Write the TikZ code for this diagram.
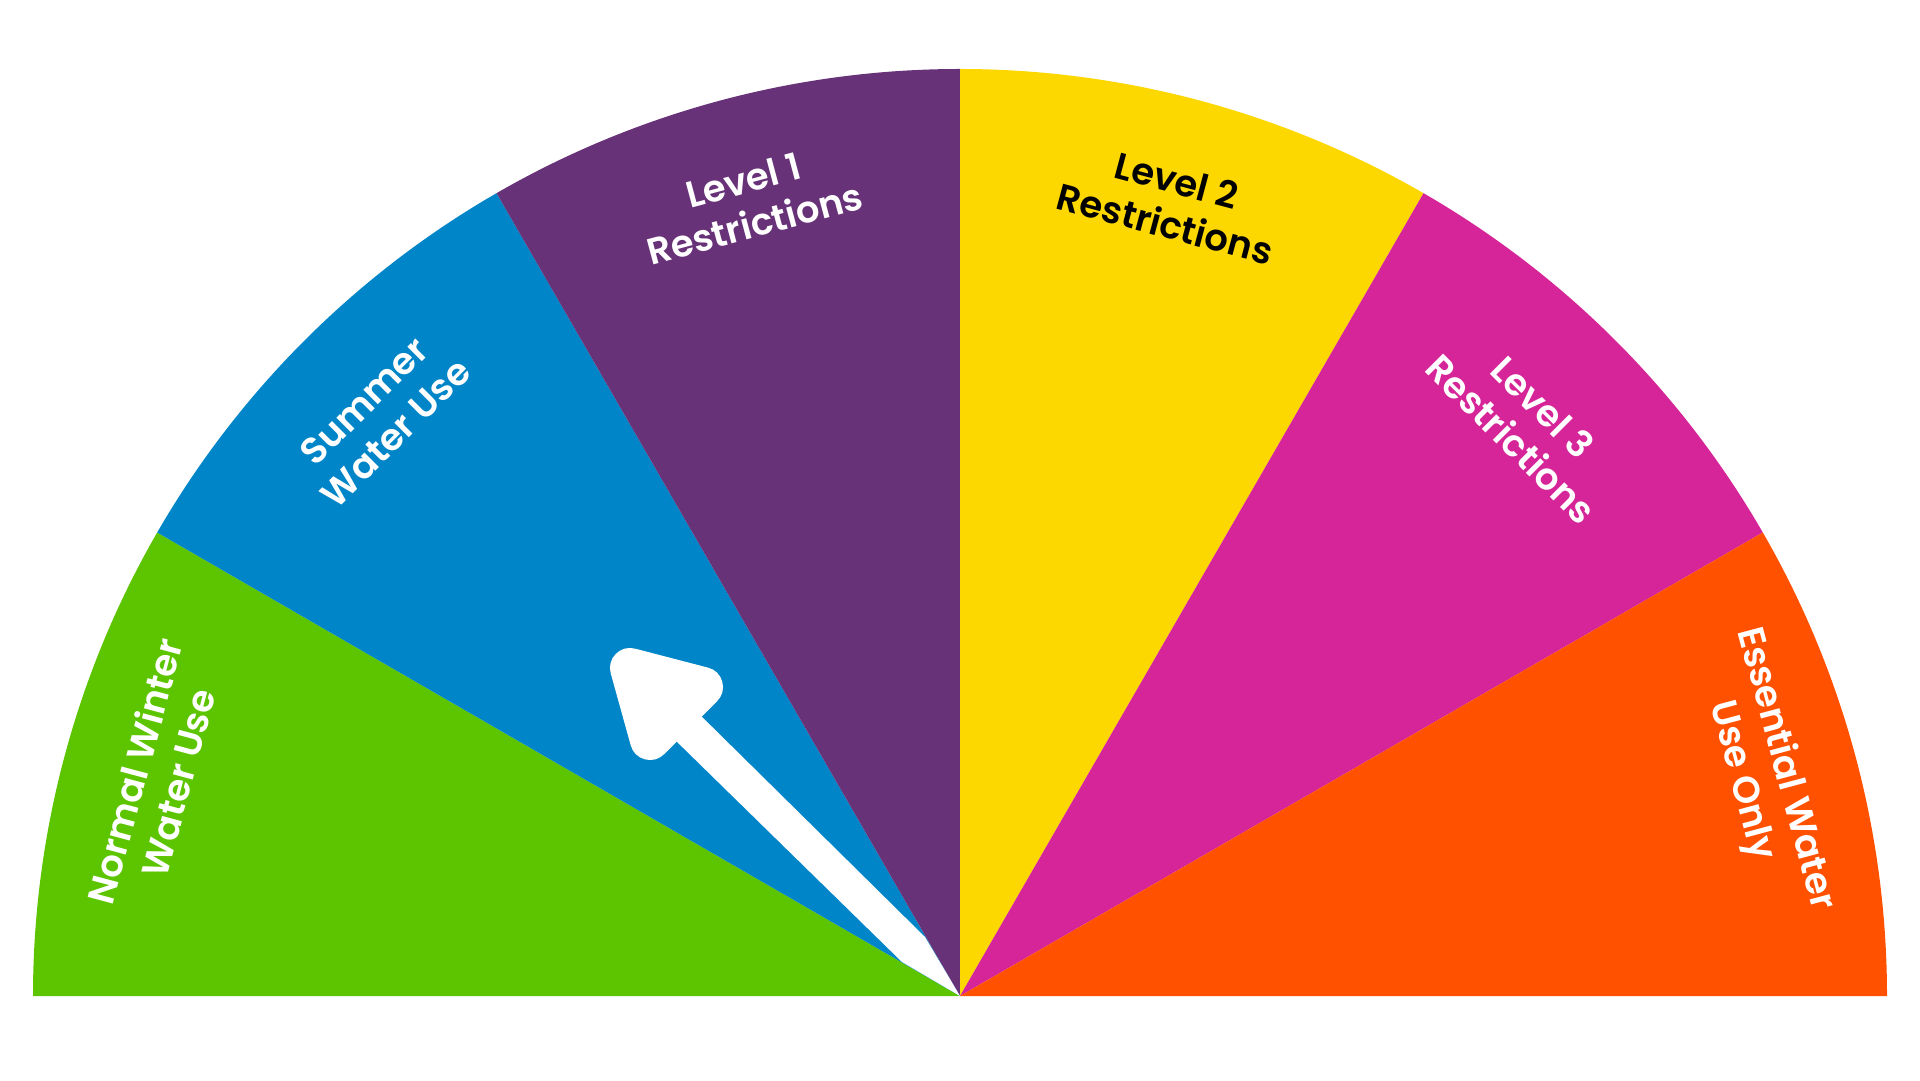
\documentclass[tikz,border=0pt]{standalone}
\usepackage{fontspec}
\setmainfont{Poppins}[BoldFont={Poppins SemiBold}]
\usepackage{tikz}
\usetikzlibrary{calc}
\definecolor{winter}{HTML}{5DC400}
\definecolor{summer}{HTML}{0085C8}
\definecolor{levelone}{HTML}{673278}
\definecolor{leveltwo}{HTML}{FCD700}
\definecolor{levelthree}{HTML}{D62598}
\definecolor{essential}{HTML}{FF5100}
\def\sector[#1](#2)(#3:#4:#5){\fill[#1] (#2) -- ++(#3:#5) arc (#3:#4:#5) -- cycle;}
\tikzset{
  dial label/.style={align=center, font=\bfseries\fontsize{37}{45}\selectfont, text=white, inner sep=0pt},
}

\begin{document}
\begin{tikzpicture}[x=1pt, y=1pt]
		%%%%% START %%%%%
		\useasboundingbox (0, 0) rectangle (1920, 1080);

		\coordinate (hub) at (960, 84);

		\sector[winter](hub)(150:180:927);
		\sector[summer](hub)(120:150:927);
		\sector[levelone](hub)(90:120:927);
		\sector[leveltwo](hub)(60:90:927);
		\sector[levelthree](hub)(30:60:927);
		\sector[essential](hub)(0:30:927);

		\node[dial label, rotate=75] (winterlbl) at (156, 303) {Normal Winter\\Water Use};
		\node[dial label, rotate=45] (summerlbl) at (380, 663) {Summer\\Water Use};
		\node[dial label, rotate=15] (levelonelbl) at (749, 878) {Level 1\\Restrictions};
		\node[dial label, rotate=-15, text=black] (leveltwolbl) at (1171, 878) {Level 2\\Restrictions};
		\node[dial label, rotate=-45] (levelthreelbl) at (1527, 657) {Level 3\\Restrictions};
		\node[dial label, rotate=-75] (essentiallbl) at (1763, 305) {Essential Water\\Use Only};

		% pointer
		\fill[white] (hub) -- (902, 118) -- (672, 343) -- (693, 372) -- (925, 143) -- cycle;
		\draw[white, fill=white, line width=40, line join=round] (630, 412) -- (703, 393) -- (650, 340) -- cycle;

		%%%%% END %%%%%
\end{tikzpicture}
\end{document}
